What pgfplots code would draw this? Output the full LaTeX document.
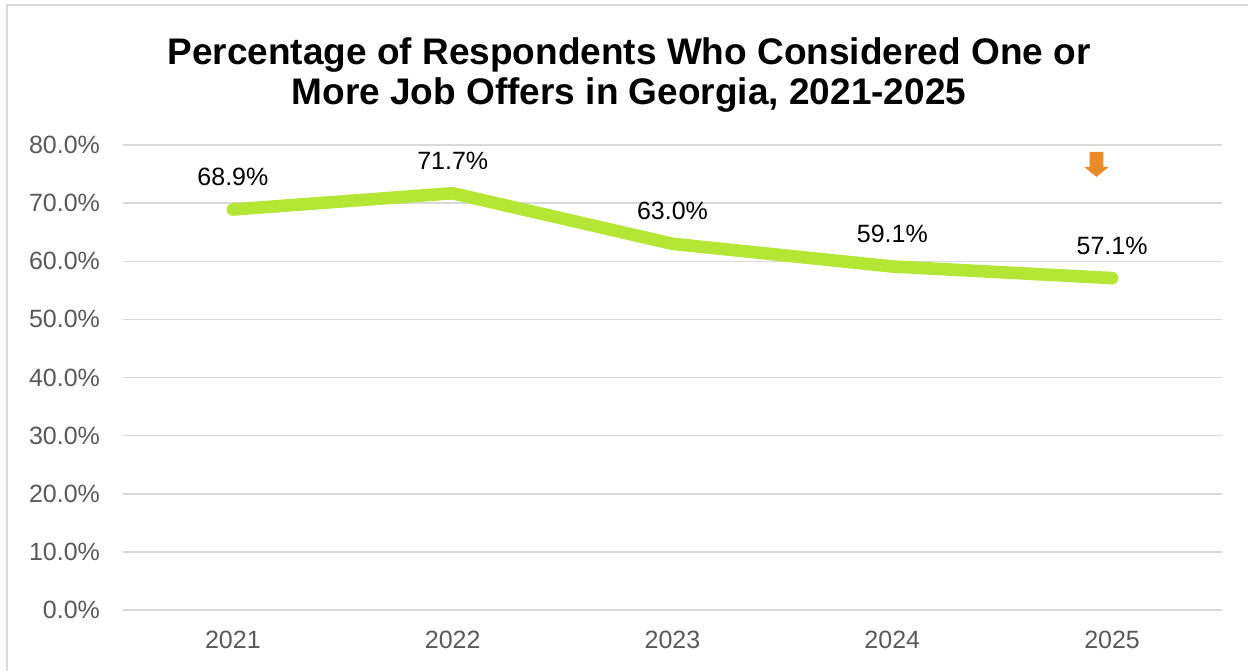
\documentclass[border=0pt]{standalone}
\usepackage{fontspec}
\setmainfont{Liberation Sans}
\usepackage{pgfplots}
\pgfplotsset{compat=1.18}
\definecolor{linegreen}{HTML}{B4E636}
\definecolor{gridgray}{HTML}{D9D9D9}
\definecolor{ticktext}{HTML}{595959}
\definecolor{arroworange}{HTML}{E98B2A}
\begin{document}
\begin{tikzpicture}
\path[use as bounding box] (-61.5pt,-30pt) rectangle (562.5pt,305pt);
\draw[gridgray, line width=1pt] (-58pt,-31pt) -- (-58pt,302.25pt) -- (563pt,302.25pt);
\begin{axis}[
  at={(0pt,0pt)}, anchor=south west,
  scale only axis, width=549.5pt, height=232.5pt,
  xmin=-0.5, xmax=4.5, ymin=0, ymax=80,
  xtick={0,1,2,3,4}, xticklabels={2021,2022,2023,2024,2025},
  ytick={0,10,...,80},
  yticklabel={\pgfmathprintnumber[fixed,fixed zerofill,precision=1]{\tick}\%},
  /pgf/number format/assume math mode=true,
  major tick length=0pt,
  axis line style={draw=none},
  ymajorgrids, grid style={gridgray, line width=0.75pt},
  tick label style={font=\fontsize{12.5}{14}\selectfont, text=ticktext},
  yticklabel style={xshift=-8pt},
  xticklabel style={yshift=-7pt},
  clip=false,
  nodes near coords,
  point meta=explicit symbolic,
  every node near coord/.append style={font=\fontsize{12.5}{14}\selectfont, text=black, anchor=base, yshift=12pt},
]
\addplot[linegreen, line width=6.3pt, line cap=round, line join=round, mark=none]
  table[meta=label] {
x y label
0 68.9 68.9\%
1 71.7 71.7\%
2 63.0 63.0\%
3 59.1 59.1\%
4 57.1 57.1\%
};
\fill[arroworange] (axis cs:3.8972,78.8) -- (axis cs:3.9608,78.8) -- (axis cs:3.9608,76.25) -- (axis cs:3.9859,76.25) -- (axis cs:3.929,74.53) -- (axis cs:3.8721,76.25) -- (axis cs:3.8972,76.25) -- cycle;
\end{axis}
\node[font=\bfseries\fontsize{18.5}{20}\selectfont, align=center, anchor=base] at (253pt,252.5pt) {Percentage of Respondents Who Considered One or\\More Job Offers in Georgia, 2021-2025};
\end{tikzpicture}
\end{document}
